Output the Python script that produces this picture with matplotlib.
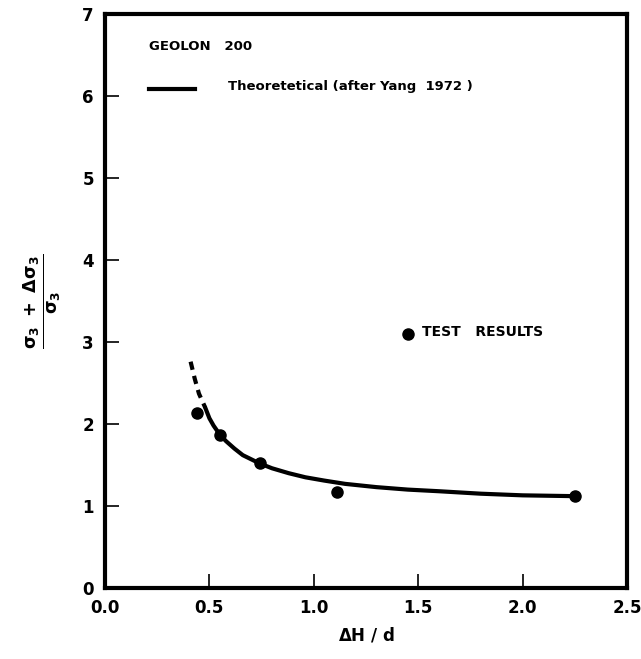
import numpy as np
import matplotlib
matplotlib.use('Agg')
from matplotlib import pyplot as plt

# test results
test_x = [0.44, 0.55, 0.74, 1.11, 2.25]
test_y = [2.13, 1.87, 1.52, 1.17, 1.12]

# theoretical curve (after Yang 1972), solid part
theo_x = [0.48, 0.50, 0.52, 0.55, 0.58, 0.62, 0.66, 0.70, 0.74, 0.80, 0.88,
          0.96, 1.05, 1.15, 1.30, 1.45, 1.60, 1.80, 2.00, 2.25]
theo_y = [2.20, 2.07, 1.98, 1.87, 1.79, 1.70, 1.62, 1.57, 1.52, 1.46, 1.40,
          1.35, 1.31, 1.27, 1.23, 1.20, 1.18, 1.15, 1.13, 1.12]

# dashed extension
dash_x = [0.41, 0.43, 0.45, 0.48]
dash_y = [2.76, 2.55, 2.37, 2.20]

xticks = [0.0, 0.5, 1.0, 1.5, 2.0, 2.5]
yticks = [0, 1, 2, 3, 4, 5, 6, 7]

plt.rcParams['font.family'] = ['DejaVu Sans']
plt.rcParams['font.weight'] = 'bold'
plt.rcParams['mathtext.default'] = 'bf'

fig = plt.figure(figsize=(6.41, 6.59), dpi=100)
ax = fig.add_axes([105/641, 1 - 588/659, (627-105)/641, (588-14)/659])

ax.plot(theo_x, theo_y, color='black', lw=3, solid_capstyle='round')
ax.plot(dash_x, dash_y, color='black', lw=3, ls=(0, (2, 1.5)))
ax.plot(test_x, test_y, 'o', color='black', ms=8)

# legend-like annotations
ax.text(0.21, 6.6, 'GEOLON   200', fontsize=9.5, fontweight='bold', va='center')
ax.plot([0.21, 0.43], [6.09, 6.09], color='black', lw=3)
ax.text(0.59, 6.11, 'Theoretetical (after Yang  1972 )', fontsize=9.5, fontweight='bold', va='center')
ax.plot([1.45], [3.1], 'o', color='black', ms=8)
ax.text(1.52, 3.12, 'TEST   RESULTS', fontsize=10, fontweight='bold', va='center')

ax.set_xlim(0, 2.5)
ax.set_ylim(0, 7)
ax.set_xticks(xticks)
ax.set_xticklabels(['%.1f' % v for v in xticks])
ax.set_yticks(yticks)
for s in ax.spines.values():
    s.set_linewidth(3)
ax.tick_params(direction='in', length=10, width=1.2, labelsize=12, pad=8)
for lab in ax.get_xticklabels() + ax.get_yticklabels():
    lab.set_fontweight('bold')

ax.set_xlabel(r'$\Delta$H / d', fontsize=12, fontweight='bold', labelpad=6)
ax.set_ylabel(r'$\frac{\sigma_3\ +\ \Delta\sigma_3}{\sigma_3}$', fontsize=18, labelpad=14)

fig.savefig('out.png', dpi=100)
